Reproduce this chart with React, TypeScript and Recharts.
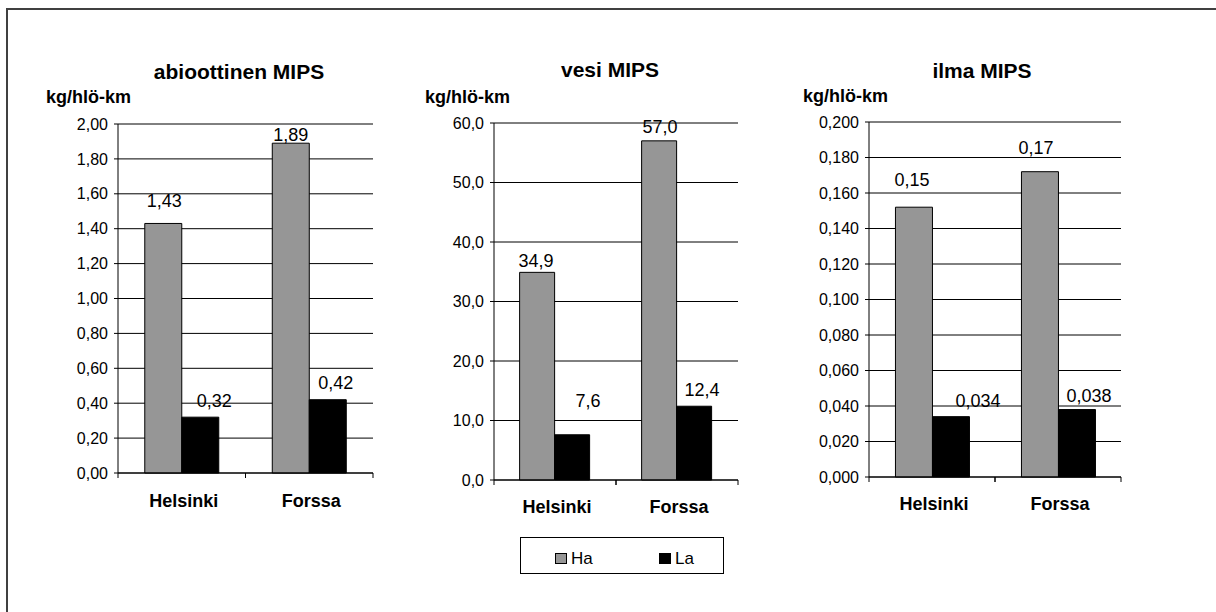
import React from 'react';
import {
  BarChart,
  Bar,
  XAxis,
  YAxis,
  CartesianGrid,
  ReferenceLine,
  LabelList,
  Legend,
} from 'recharts';

const FONT = '"Liberation Sans", Arial, Helvetica, sans-serif';
const W = 1216;
const H = 612;

// Categories and series
const cities = ['Helsinki', 'Forssa'];
const seriesNames = ['Ha', 'La'];
const seriesColors = ['#969696', '#000000'];
const unitLabel = 'kg/hlö-km';

// abioottinen MIPS (kg/hlö-km)
const abioHa = [1.43, 1.89];
const abioLa = [0.32, 0.42];
const abioTicks = [0, 0.2, 0.4, 0.6, 0.8, 1.0, 1.2, 1.4, 1.6, 1.8, 2.0];

// vesi MIPS (kg/hlö-km)
const vesiHa = [34.9, 57.0];
const vesiLa = [7.6, 12.4];
const vesiTicks = [0, 10, 20, 30, 40, 50, 60];

// ilma MIPS (kg/hlö-km)
const ilmaHa = [0.152, 0.172];
const ilmaLa = [0.034, 0.038];
const ilmaTicks = [0, 0.02, 0.04, 0.06, 0.08, 0.1, 0.12, 0.14, 0.16, 0.18, 0.2];

type Nudge = { dx: number; gap: number };

type PanelCfg = {
  title: string;
  ha: number[];
  la: number[];
  ticks: number[];
  tickDecimals: number;
  haDecimals: number;
  laDecimals: number;
  boxLeft: number;
  boxWidth: number;
  plot: { left: number; right: number; top: number; bottom: number };
  titleX: number;
  titleBaseline: number;
  unitX: number;
  unitBaseline: number;
  catDy: number;
  haNudge: Nudge[];
  laNudge: Nudge[];
  legend?: boolean;
};

const panels: PanelCfg[] = [
  {
    title: 'abioottinen MIPS',
    ha: abioHa,
    la: abioLa,
    ticks: abioTicks,
    tickDecimals: 2,
    haDecimals: 2,
    laDecimals: 2,
    boxLeft: 0,
    boxWidth: 420,
    plot: { left: 118, right: 373, top: 124, bottom: 473 },
    titleX: 239,
    titleBaseline: 79,
    unitX: 46,
    unitBaseline: 103,
    catDy: 34,
    haNudge: [
      { dx: 1, gap: 16 },
      { dx: 0, gap: 2 },
    ],
    laNudge: [
      { dx: 14, gap: 10 },
      { dx: 8, gap: 11 },
    ],
  },
  {
    title: 'vesi MIPS',
    ha: vesiHa,
    la: vesiLa,
    ticks: vesiTicks,
    tickDecimals: 1,
    haDecimals: 1,
    laDecimals: 1,
    boxLeft: 400,
    boxWidth: 400,
    plot: { left: 494, right: 738, top: 123, bottom: 480 },
    titleX: 610,
    titleBaseline: 77,
    unitX: 425,
    unitBaseline: 103,
    catDy: 33,
    haNudge: [
      { dx: -1, gap: 5 },
      { dx: 1, gap: 8 },
    ],
    laNudge: [
      { dx: 16, gap: 28 },
      { dx: 8, gap: 10 },
    ],
    legend: true,
  },
  {
    title: 'ilma MIPS',
    ha: ilmaHa,
    la: ilmaLa,
    ticks: ilmaTicks,
    tickDecimals: 3,
    haDecimals: 2,
    laDecimals: 3,
    boxLeft: 790,
    boxWidth: 426,
    plot: { left: 869, right: 1121, top: 122, bottom: 477 },
    titleX: 982,
    titleBaseline: 78,
    unitX: 803,
    unitBaseline: 102,
    catDy: 33,
    haNudge: [
      { dx: -2, gap: 21 },
      { dx: -4, gap: 18 },
    ],
    laNudge: [
      { dx: 27, gap: 10 },
      { dx: 12, gap: 8 },
    ],
  },
];

const fmt = (decimals: number) => (v: any) =>
  Number(v).toFixed(decimals).replace('.', ',');

// top offset of a one-line box whose baseline should sit at `baseline`
const topFor = (baseline: number, fs: number) => baseline - fs * 0.8465;

function LegendBox() {
  const itemLeft = [34, 138];
  return (
    <div
      style={{
        position: 'relative',
        boxSizing: 'border-box',
        width: 204,
        height: 37,
        border: '1px solid #000',
        background: '#fff',
        fontFamily: FONT,
        fontSize: 17,
        lineHeight: '17px',
        color: '#000',
      }}
    >
      {seriesNames.map((name, i) => (
        <React.Fragment key={name}>
          <div
            style={{
              position: 'absolute',
              left: itemLeft[i],
              top: 15,
              width: 12,
              height: 11,
              boxSizing: 'border-box',
              background: seriesColors[i],
              border: '1px solid #000',
            }}
          />
          <div style={{ position: 'absolute', left: itemLeft[i] + 16, top: 12 }}>
            {name}
          </div>
        </React.Fragment>
      ))}
    </div>
  );
}

const XH = 50;

function Panel({ p }: { p: PanelCfg }) {
  const data = cities.map((c, i) => ({ city: c, Ha: p.ha[i], La: p.la[i] }));
  const max = p.ticks[p.ticks.length - 1];
  const band = (p.plot.right - p.plot.left) / cities.length;
  const YW = 60;
  const margin = {
    top: p.plot.top,
    bottom: H - p.plot.bottom - XH,
    left: p.plot.left - p.boxLeft - YW,
    right: p.boxLeft + p.boxWidth - p.plot.right,
  };

  const renderCatTick = (props: any) => {
    const x = Number(props.x);
    const y = Number(props.y);
    const { payload } = props;
    return (
      <g>
        <line x1={x - band / 2} x2={x - band / 2} y1={y} y2={y + 5} stroke="#000" />
        <line x1={x + band / 2} x2={x + band / 2} y1={y} y2={y + 5} stroke="#000" />
        <text
          x={x + 2}
          y={y + p.catDy}
          textAnchor="middle"
          fontSize={18}
          fontWeight="bold"
          fill="#000"
          fontFamily={FONT}
        >
          {payload.value}
        </text>
      </g>
    );
  };

  const makeLabel = (nudges: Nudge[], decimals: number) => (props: any) => {
    const vb = props.viewBox && props.viewBox.x != null ? props.viewBox : props;
    const x = Number(vb.x);
    const y = Number(vb.y);
    const w = Number(vb.width);
    const h = Number(vb.height);
    const top = h < 0 ? y + h : y;
    const n = nudges[props.index] || { dx: 0, gap: 6 };
    return (
      <text
        x={x + w / 2 + n.dx}
        y={top - n.gap}
        textAnchor="middle"
        fontSize={18}
        fill="#000"
        fontFamily={FONT}
      >
        {fmt(decimals)(props.value)}
      </text>
    );
  };

  return (
    <div style={{ position: 'absolute', left: p.boxLeft, top: 0 }}>
      <BarChart
        width={p.boxWidth}
        height={H}
        data={data}
        margin={margin}
        barCategoryGap="21%"
        barGap={0}
      >
        <CartesianGrid vertical={false} stroke="#000" />
        <XAxis
          dataKey="city"
          height={XH}
          tickSize={0}
          tickMargin={0}
          tickLine={false}
          axisLine={{ stroke: '#000' }}
          tick={renderCatTick}
          interval={0}
        />
        <YAxis
          width={YW}
          domain={[0, max]}
          ticks={p.ticks}
          interval={0}
          tickFormatter={fmt(p.tickDecimals)}
          tickSize={4}
          tickMargin={6}
          axisLine={{ stroke: '#000' }}
          tickLine={{ stroke: '#000' }}
          tick={{ fill: '#000', fontSize: 16, fontFamily: FONT }}
        />
        <YAxis
          yAxisId="frame"
          orientation="right"
          width={0}
          domain={[0, max]}
          tick={false}
          tickLine={false}
          axisLine={{ stroke: '#808080' }}
        />
        <Bar dataKey="Ha" fill={seriesColors[0]} stroke="#000" strokeWidth={1} isAnimationActive={false}>
          <LabelList dataKey="Ha" content={makeLabel(p.haNudge, p.haDecimals)} />
        </Bar>
        <Bar dataKey="La" fill={seriesColors[1]} stroke="#000" strokeWidth={1} isAnimationActive={false}>
          <LabelList dataKey="La" content={makeLabel(p.laNudge, p.laDecimals)} />
        </Bar>
        <ReferenceLine y={max} stroke="#808080" />
        {p.legend && (
          <Legend
            layout="horizontal"
            verticalAlign="middle"
            align="center"
            wrapperStyle={{ left: 120, top: 537, width: 204, height: 37 }}
            content={() => <LegendBox />}
          />
        )}
      </BarChart>
    </div>
  );
}

export default function App() {
  return (
    <div
      style={{
        position: 'absolute',
        left: 0,
        top: 0,
        width: W,
        height: H,
        overflow: 'hidden',
        background: '#fff',
        fontFamily: FONT,
        color: '#000',
      }}
    >
      <div
        style={{
          position: 'absolute',
          left: 6,
          top: 8,
          width: W,
          height: H,
          borderTop: '2px solid #404040',
          borderLeft: '2px solid #404040',
        }}
      />
      {panels.map((p) => (
        <React.Fragment key={p.title}>
          <div
            style={{
              position: 'absolute',
              left: p.titleX - 150,
              width: 300,
              top: topFor(p.titleBaseline, 21),
              fontSize: 21,
              lineHeight: '21px',
              fontWeight: 'bold',
              textAlign: 'center',
              whiteSpace: 'nowrap',
            }}
          >
            {p.title}
          </div>
          <div
            style={{
              position: 'absolute',
              left: p.unitX,
              top: topFor(p.unitBaseline, 18),
              fontSize: 18,
              lineHeight: '18px',
              fontWeight: 'bold',
              whiteSpace: 'nowrap',
            }}
          >
            {unitLabel}
          </div>
        </React.Fragment>
      ))}
      {panels.map((p) => (
        <Panel key={p.title} p={p} />
      ))}
    </div>
  );
}
